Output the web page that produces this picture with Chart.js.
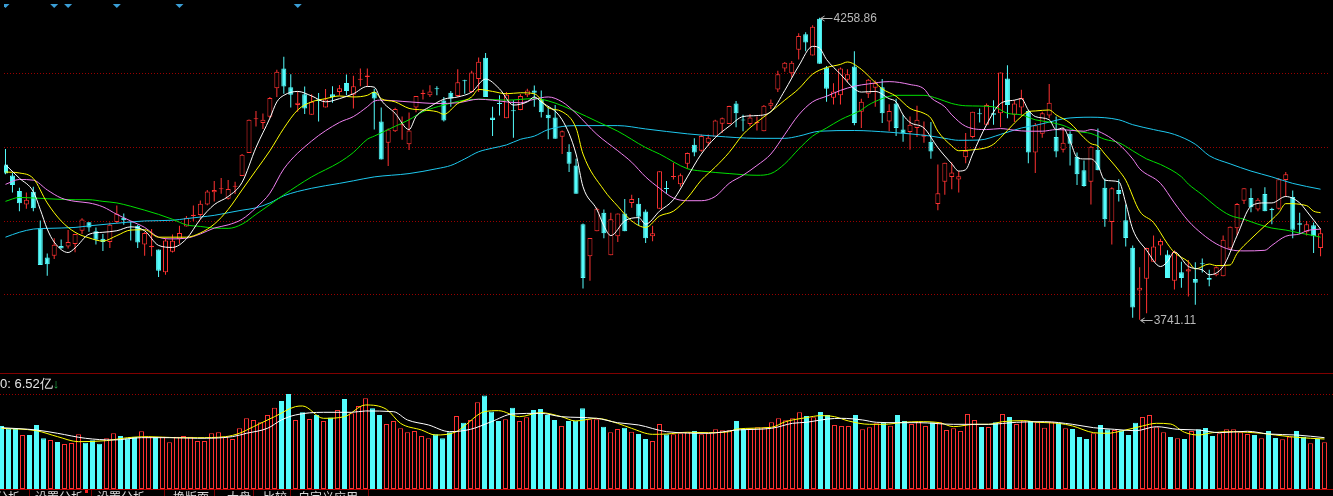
<!DOCTYPE html>
<html>
<head>
<meta charset="utf-8">
<script src="https://cdn.jsdelivr.net/npm/chart.js@4.4.1/dist/chart.umd.min.js"></script>
<style>
  html, body { margin: 0; padding: 0; background: #000; overflow: hidden; }
  #wrap { position: relative; width: 1333px; height: 496px; background: #000; overflow: hidden; }
  #price { position: absolute; left: 0; top: 0; }
  #volume { position: absolute; left: 0; top: 374px; }
  .hline { position: absolute; left: 0; width: 1333px; height: 1px; }
  #volLabel { position: absolute; left: 0; top: 375px; font: 13px "Liberation Sans", Arial, sans-serif; color: #e4e4e4; white-space: nowrap; }
  #volLabel .arrow { color: #22b04a; }
  #tabs { position: absolute; left: 0; top: 490px; width: 1333px; height: 6px; overflow: hidden; }
  #tabs span { position: absolute; top: 1px; font: 12px/12px "Noto Sans CJK SC", sans-serif; color: #d8d8d8; white-space: nowrap; }
  #tabs i { position: absolute; top: 0; width: 1px; height: 6px; background: #800000; }
</style>
</head>
<body>
<div id="wrap">
  <canvas id="price" width="1333" height="373"></canvas>
  <div class="hline" style="top:373px;background:#800000"></div>
  <canvas id="volume" width="1333" height="115"></canvas>
  <div id="volLabel"></div>
  <div class="hline" style="top:489px;background:#b00000"></div>
  <div id="tabs"></div>
</div>
<script>
// daily candles (index points)
const opens = [4007.3,3988.4,3962.0,3938.5,3960.4,3897.8,3848.0,3850.9,3867.6,3866.9,
3871.0,3893.8,3908.3,3892.8,3879.9,3874.3,3908.8,3916.2,3909.5,3902.1,
3870.3,3865.3,3861.4,3822.4,3857.6,3879.4,3901.1,3918.9,3920.5,3938.5,
3959.9,3964.9,3948.6,3969.3,3987.7,4026.9,4084.9,4078.2,4088.9,4138.1,
4171.6,4139.8,4109.1,4127.5,4092.3,4118.6,4105.0,4127.5,4131.4,4147.0,
4126.9,4152.7,4157.0,4131.4,4081.1,4044.7,4064.3,4074.3,4042.0,4105.0,
4128.1,4125.8,4138.1,4116.8,4130.2,4124.7,4151.5,4131.4,4153.7,4190.1,
4087.8,4111.8,4086.6,4099.5,4100.7,4125.8,4134.2,4118.6,4092.3,4087.8,
4054.8,4029.1,4005.6,3904.9,3850.2,3892.8,3924.6,3851.9,3884.4,3923.4,
3941.4,3940.2,3926.8,3884.4,3931.3,3966.5,3986.0,3973.2,4008.4,4040.9,
4030.8,4044.7,4054.8,4077.2,4076.5,4111.8,4083.9,4076.5,4078.2,4064.3,
4107.9,4135.9,4171.6,4163.7,4204.0,4230.3,4193.9,4257.1,4173.3,4121.8,
4125.8,4152.7,4175.0,4097.8,4128.6,4138.6,4139.8,4081.1,4111.8,4067.1,
4063.1,4069.8,4054.8,4046.4,3939.7,3977.6,3986.0,3981.6,4019.5,4054.2,
4095.0,4075.5,4095.0,4095.0,4154.8,4092.3,4105.0,4099.0,4027.9,4059.8,
4091.1,4054.2,4032.4,4059.8,4020.7,3997.2,3977.6,4032.4,3967.5,3908.8,
3963.7,3911.7,3864.8,3791.5,3811.6,3840.7,3868.6,3853.0,3808.2,3822.8,
3823.9,3811.1,3837.9,3812.8,3817.3,3815.6,3863.1,3897.8,3945.2,3949.8,
3930.1,3956.5,3931.3,3931.3,3980.5,3951.4,3906.6,3892.1,3903.3,3864.3];

const highs = [4033.7,3992.7,3967.6,3959.2,3969.3,3911.2,3854.7,3881.0,3878.7,3895.0,
3888.3,3915.0,3908.3,3899.4,3888.3,3907.8,3936.8,3923.4,3909.5,3903.8,
3891.6,3896.9,3861.4,3881.0,3887.1,3902.1,3919.1,3936.8,3945.7,3963.7,
3978.8,3984.3,3980.5,3977.6,4025.3,4084.4,4099.0,4094.5,4123.0,4169.5,
4191.8,4162.1,4132.5,4141.0,4127.5,4129.7,4136.5,4141.5,4143.6,4161.6,
4159.4,4171.6,4171.6,4137.0,4105.0,4068.8,4104.5,4089.4,4096.2,4124.7,
4135.3,4143.1,4141.5,4123.0,4133.1,4170.4,4152.7,4167.8,4190.6,4198.5,
4106.2,4125.8,4131.4,4117.5,4128.0,4137.0,4142.6,4134.2,4106.2,4109.1,
4065.5,4042.0,4016.9,3906.1,3881.5,3933.0,3930.1,3924.6,3923.4,3948.1,
3955.3,3949.8,3930.1,3902.1,3995.5,3978.8,4010.2,3991.7,4027.9,4052.1,
4058.8,4058.8,4083.9,4087.8,4107.9,4115.9,4092.3,4094.0,4089.4,4109.1,
4118.6,4167.8,4182.9,4184.5,4232.0,4233.7,4245.9,4258.86,4176.1,4146.5,
4173.3,4170.4,4201.3,4120.1,4153.7,4151.0,4153.7,4110.7,4120.1,4092.3,
4089.4,4107.9,4081.1,4079.9,4007.3,4010.2,4011.2,3996.0,4061.4,4097.8,
4103.4,4111.8,4117.5,4164.9,4177.2,4117.5,4135.3,4100.7,4078.2,4097.8,
4145.3,4089.4,4069.8,4064.3,4027.9,4014.0,4039.1,4068.8,3983.3,3968.2,
3982.1,3938.5,3868.6,3831.2,3864.8,3885.4,3879.9,3860.2,3860.2,3840.7,
3843.4,3839.6,3846.3,3826.7,3832.3,3885.4,3901.1,3941.4,3966.5,3966.5,
3949.8,3968.2,3933.0,3984.3,3994.4,3962.5,3924.6,3910.5,3907.8,3896.9];

const lows = [3990.6,3959.2,3927.3,3931.3,3927.3,3835.1,3816.6,3845.2,3863.1,3863.1,
3856.9,3888.3,3892.1,3870.3,3859.2,3864.3,3906.6,3903.8,3877.0,3864.3,
3850.9,3850.2,3814.5,3818.4,3856.4,3871.5,3901.1,3910.5,3913.4,3937.3,
3944.0,3957.0,3947.4,3956.5,3987.7,4026.9,4072.2,4068.3,4086.6,4123.0,
4128.6,4105.0,4097.8,4094.0,4092.3,4081.1,4105.0,4112.9,4125.8,4125.8,
4103.4,4141.5,4141.0,4067.1,4015.7,4004.5,4063.1,4049.7,4032.0,4096.7,
4118.6,4123.0,4125.8,4081.1,4106.2,4123.0,4128.6,4130.2,4131.4,4123.0,
4055.9,4091.1,4086.6,4053.2,4100.2,4123.0,4106.2,4087.8,4050.4,4051.4,
4025.3,3994.4,3957.0,3794.8,3808.2,3892.8,3881.0,3851.9,3874.3,3892.8,
3933.0,3902.1,3872.6,3875.9,3931.3,3956.5,3981.6,3969.3,4000.1,4021.2,
4029.1,4039.1,4054.8,4061.4,4076.5,4071.0,4064.3,4072.7,4065.5,4064.3,
4102.4,4131.4,4166.1,4156.5,4187.2,4201.3,4193.9,4180.0,4114.6,4110.1,
4110.1,4148.1,4074.3,4069.8,4121.3,4106.2,4078.2,4064.3,4055.9,4046.4,
4032.4,4054.2,4044.7,4016.9,3929.0,3955.3,3964.9,3959.2,4009.5,4052.1,
4079.4,4074.3,4075.5,4071.0,4086.6,4079.9,4089.4,4009.5,3992.7,4053.1,
4086.6,4019.5,4027.9,4005.6,3972.1,3969.3,3938.5,3997.2,3900.5,3870.3,
3944.0,3866.9,3744.5,3741.11,3752.4,3840.7,3851.8,3812.8,3793.1,3796.0,
3780.9,3767.0,3822.3,3798.8,3815.6,3815.6,3863.1,3885.4,3939.7,3925.6,
3927.3,3927.3,3905.0,3930.1,3952.4,3881.0,3888.3,3885.4,3855.8,3850.2];

const closes = [3991.7,3972.1,3940.7,3946.9,3932.3,3835.1,3836.3,3869.8,3863.1,3874.3,
3888.3,3912.9,3899.4,3878.2,3874.3,3903.8,3922.9,3911.7,3907.8,3873.7,
3889.9,3868.1,3825.1,3877.0,3876.5,3889.9,3916.2,3921.2,3940.2,3960.9,
3963.7,3965.9,3965.4,3970.4,4024.1,4083.9,4086.1,4083.9,4121.3,4166.1,
4141.0,4126.9,4112.9,4103.4,4114.6,4115.9,4118.6,4123.0,4138.1,4133.1,
4141.5,4153.7,4159.9,4120.3,4015.7,4067.1,4102.3,4075.5,4065.5,4124.7,
4129.7,4132.5,4136.0,4082.7,4120.3,4148.1,4149.8,4164.9,4183.4,4123.0,
4083.3,4110.9,4126.9,4098.3,4124.7,4134.2,4130.2,4096.7,4086.6,4051.4,
4064.3,4008.4,3957.0,3812.8,3881.5,3931.3,3889.4,3913.4,3923.4,3892.8,
3948.1,3917.9,3881.0,3889.4,3995.5,3965.4,3987.7,3988.8,4026.9,4027.9,
4055.9,4053.1,4082.7,4086.6,4107.4,4095.0,4082.7,4087.8,4079.4,4107.9,
4112.9,4162.1,4181.7,4181.7,4227.5,4216.4,4243.2,4180.0,4136.9,4132.5,
4171.6,4162.1,4078.2,4114.6,4152.7,4147.0,4095.0,4099.0,4069.8,4060.4,
4075.5,4083.9,4058.8,4029.6,3958.1,4010.2,3993.4,3987.2,4030.8,4097.8,
4093.3,4109.1,4092.3,4164.9,4109.1,4111.8,4121.3,4027.9,4074.3,4095.0,
4112.9,4029.6,4044.7,4043.0,3990.5,3970.4,4037.5,3997.2,3913.4,3966.5,
3956.5,3881.5,3762.4,3796.0,3864.3,3866.9,3876.0,3812.8,3857.5,3812.8,
3827.8,3804.4,3836.2,3809.9,3831.2,3878.2,3900.5,3939.7,3966.5,3934.0,
3946.9,3927.3,3929.0,3982.1,3990.5,3895.4,3903.8,3904.9,3884.4,3889.4];

// volume, 亿
const volumes = [8.08,7.78,7.69,6.92,6.92,8.21,6.50,6.28,6.03,5.77,
5.90,7.01,5.94,6.24,5.81,6.50,7.14,6.79,6.50,6.71,
7.40,6.71,6.71,6.71,5.98,6.71,6.79,6.71,6.15,6.15,
7.14,7.27,6.71,6.41,7.78,9.06,8.85,8.55,9.49,10.43,
11.28,12.18,8.85,9.83,8.97,9.49,8.72,9.15,10.13,11.54,
9.70,10.64,11.62,10.34,9.49,8.33,8.72,7.78,7.27,7.44,
6.79,6.50,7.01,6.50,7.27,9.36,8.50,8.85,11.11,11.97,
9.92,8.72,8.93,10.43,8.72,9.19,10.13,10.26,9.49,8.85,
8.08,8.72,8.76,10.34,8.93,8.93,7.99,7.27,7.69,7.86,
7.35,7.05,6.41,6.15,8.33,7.01,7.01,7.14,7.27,7.44,
7.01,7.14,7.65,7.52,7.52,8.72,7.69,7.78,7.91,7.91,
8.55,9.06,8.80,9.06,9.83,9.36,9.19,9.87,9.49,8.21,
8.08,8.08,9.49,7.65,7.91,8.42,8.50,8.12,9.49,8.72,
8.33,8.63,8.08,8.55,8.55,7.56,7.78,7.44,9.62,8.85,
7.95,7.95,8.55,9.62,9.23,8.33,8.76,8.72,8.55,7.86,
8.63,8.50,7.78,7.69,6.67,6.41,7.14,8.21,7.65,7.56,
7.52,6.92,8.50,9.23,9.49,7.91,7.27,6.67,6.50,6.41,
7.44,7.65,7.82,6.79,7.14,7.65,7.65,7.27,7.05,6.92,
6.50,7.44,6.54,6.37,6.71,7.44,6.71,5.85,6.41,5.98];

// moving average lines read at [candle index, value]
const ma5 = [[0,4006.8],[2,3983.8],[4,3960.8],[5,3930.1],[6,3896.6],[7,3874.3],[9,3856.4],[10,3864.2],[12,3887.7],[14,3891.1],[16,3893.7],[18,3900.4],[20,3893.7],[22,3868.6],[24,3865.2],[26,3879.8],[28,3913.4],[30,3938.5],[32,3952.4],[34,3976.6],[36,4036.3],[38,4086.6],[39,4114.6],[40,4125.8],[42,4132.5],[44,4124.7],[46,4114.6],[48,4120.1],[50,4128.5],[52,4141.0],[53,4139.8],[54,4117.5],[56,4095.0],[58,4067.1],[59,4089.4],[61,4106.2],[63,4119.1],[65,4123.0],[67,4131.4],[69,4153.7],[71,4136.9],[73,4109.1],[75,4114.6],[76,4123.0],[77,4114.6],[80,4083.9],[82,4025.2],[83,3969.2],[85,3930.1],[86,3902.1],[87,3885.4],[89,3910.5],[91,3916.2],[92,3905.0],[94,3927.3],[96,3946.9],[98,3986.0],[100,4025.2],[102,4053.1],[104,4072.7],[106,4089.4],[108,4091.1],[110,4097.8],[112,4134.2],[114,4176.1],[116,4209.7],[117,4206.8],[118,4187.2],[120,4162.1],[122,4136.9],[123,4131.4],[125,4132.5],[127,4120.1],[128,4114.6],[129,4092.3],[130,4079.4],[132,4069.8],[134,4036.3],[136,4008.4],[137,3996.0],[138,3998.4],[139,4025.2],[141,4075.5],[143,4111.8],[145,4117.5],[146,4120.1],[147,4100.7],[148,4089.4],[150,4083.9],[151,4067.1],[152,4069.8],[153,4047.5],[154,4019.5],[155,4016.8],[156,4016.8],[157,4005.6],[158,3980.4],[160,3977.6],[161,3941.4],[162,3896.6],[164,3860.2],[166,3832.4],[167,3840.7],[168,3857.5],[170,3832.4],[172,3826.7],[173,3818.3],[175,3832.4],[177,3885.4],[179,3935.7],[181,3941.4],[182,3941.4],[184,3952.4],[186,3941.4],[187,3927.3],[189,3896.6]];

const ma10 = [[0,3994.4],[2,3992.7],[4,3983.3],[6,3941.4],[8,3910.5],[10,3891.1],[12,3881.5],[14,3876.0],[16,3885.4],[18,3894.9],[20,3895.4],[22,3882.7],[24,3882.7],[26,3882.7],[28,3889.9],[30,3905.0],[32,3930.1],[34,3963.7],[36,3997.2],[38,4030.8],[40,4069.3],[42,4100.7],[44,4114.6],[46,4120.1],[48,4124.7],[50,4123.0],[52,4125.8],[53,4131.4],[54,4120.1],[56,4114.6],[58,4103.4],[60,4100.7],[62,4097.8],[63,4093.3],[65,4111.8],[67,4123.0],[68,4135.9],[70,4132.5],[72,4128.5],[74,4130.2],[76,4128.5],[78,4104.5],[80,4097.8],[82,4069.8],[83,4025.2],[86,3963.7],[88,3935.7],[90,3910.5],[92,3899.4],[94,3918.9],[96,3927.3],[98,3949.8],[100,3980.4],[102,4002.7],[104,4027.9],[106,4058.8],[108,4079.9],[110,4097.8],[112,4117.5],[114,4136.9],[116,4162.1],[118,4173.3],[120,4178.8],[121,4182.9],[123,4170.4],[124,4159.4],[126,4136.9],[128,4124.2],[130,4103.4],[132,4095.0],[133,4086.6],[134,4064.3],[136,4039.1],[137,4030.8],[139,4032.4],[141,4036.3],[142,4042.0],[143,4053.1],[145,4078.2],[146,4089.4],[147,4097.8],[148,4099.0],[150,4100.7],[151,4092.3],[153,4078.2],[155,4053.1],[156,4043.0],[157,4039.1],[158,4025.2],[160,3997.2],[161,3980.4],[163,3927.3],[165,3907.8],[167,3871.4],[168,3856.4],[170,3840.7],[171,3828.3],[173,3836.7],[174,3834.0],[176,3835.0],[177,3854.7],[179,3879.8],[181,3902.1],[183,3924.6],[184,3940.2],[187,3936.8],[188,3927.3],[189,3924.6]];

const ma20 = [[0,3973.2],[2,3981.6],[4,3980.4],[6,3963.7],[8,3949.8],[10,3944.1],[12,3941.4],[14,3934.7],[16,3921.8],[18,3910.5],[20,3899.4],[22,3882.7],[24,3879.8],[26,3881.0],[28,3888.2],[30,3898.3],[32,3903.8],[34,3913.4],[36,3933.0],[38,3958.1],[40,3999.7],[44,4047.5],[48,4079.4],[50,4089.4],[52,4106.2],[53,4115.8],[54,4117.5],[58,4114.6],[62,4111.8],[65,4113.0],[68,4119.1],[70,4117.5],[72,4114.6],[74,4113.0],[76,4119.1],[78,4123.0],[80,4114.6],[82,4095.0],[85,4058.8],[88,4030.8],[90,4011.1],[92,3986.0],[94,3966.5],[96,3949.8],[98,3945.2],[100,3945.2],[102,3952.4],[104,3974.9],[106,3988.8],[108,4005.6],[110,4025.2],[112,4058.8],[114,4092.3],[116,4114.6],[118,4124.2],[120,4134.2],[122,4141.4],[124,4145.3],[127,4149.3],[130,4144.3],[132,4136.9],[133,4121.8],[135,4106.2],[136,4092.3],[138,4072.7],[141,4067.1],[143,4068.8],[145,4066.0],[147,4064.3],[149,4064.3],[151,4067.1],[153,4066.0],[155,4064.3],[156,4067.1],[158,4058.8],[160,4042.0],[162,4016.8],[163,4000.1],[166,3974.9],[168,3941.4],[170,3910.5],[172,3888.2],[174,3871.4],[176,3861.4],[178,3859.2],[181,3860.2],[182,3868.6],[184,3884.3],[186,3888.2],[187,3893.7],[189,3896.6]];

const ma30 = [[0,3944.1],[2,3950.8],[6,3948.6],[10,3946.9],[12,3946.9],[14,3944.1],[16,3941.4],[18,3935.7],[20,3929.0],[22,3921.8],[24,3913.4],[26,3903.8],[28,3901.1],[30,3898.3],[32,3897.8],[34,3905.0],[36,3921.8],[38,3938.5],[40,3955.3],[44,3986.0],[48,4011.1],[50,4027.9],[52,4050.4],[53,4055.9],[56,4072.7],[58,4083.9],[60,4097.8],[63,4109.1],[66,4117.5],[69,4119.1],[72,4117.5],[76,4120.1],[78,4116.3],[82,4097.8],[85,4081.1],[88,4064.3],[92,4036.3],[94,4025.2],[98,4000.1],[100,3996.1],[104,3991.7],[108,3988.8],[110,3991.7],[112,4008.4],[114,4033.6],[116,4055.9],[118,4069.8],[120,4083.9],[123,4100.7],[124,4109.1],[126,4120.1],[128,4125.8],[132,4125.8],[134,4120.1],[136,4111.8],[138,4107.9],[142,4106.2],[144,4095.0],[146,4092.3],[148,4083.9],[150,4079.9],[152,4074.3],[154,4064.3],[156,4060.4],[158,4050.4],[160,4044.7],[162,4030.8],[164,4016.8],[166,4007.3],[169,3986.3],[170,3973.7],[172,3955.3],[174,3935.2],[176,3920.1],[178,3913.4],[180,3905.0],[182,3898.3],[184,3894.9],[186,3889.9],[188,3885.4],[189,3882.7]];

const ma60 = [[0,3882.7],[2,3891.1],[4,3896.6],[6,3897.8],[10,3899.4],[12,3902.1],[16,3906.6],[20,3910.5],[24,3911.7],[26,3914.5],[28,3917.2],[30,3920.1],[32,3924.6],[34,3929.0],[36,3933.0],[38,3941.4],[40,3953.6],[44,3966.5],[48,3974.9],[50,3979.3],[53,3986.0],[58,3991.7],[62,4000.1],[64,4005.6],[66,4016.8],[68,4029.1],[70,4035.3],[72,4040.8],[74,4050.4],[76,4055.9],[78,4067.1],[82,4073.9],[88,4073.9],[92,4068.2],[98,4059.8],[102,4055.9],[108,4052.1],[112,4052.1],[114,4055.9],[117,4064.3],[122,4065.5],[127,4062.6],[130,4059.8],[133,4055.9],[135,4052.1],[137,4048.7],[140,4049.2],[143,4058.8],[146,4069.8],[148,4074.3],[150,4079.9],[152,4085.6],[154,4087.8],[156,4088.3],[160,4083.9],[162,4075.5],[165,4067.1],[168,4058.8],[171,4042.0],[173,4022.4],[176,4008.4],[179,3996.0],[182,3986.0],[185,3974.9],[189,3964.9]];

const volMa5 = [[0,7.78],[5,7.47],[8,6.71],[11,6.07],[15,6.20],[18,6.58],[21,6.71],[25,6.58],[28,6.58],[32,6.71],[34,7.14],[36,7.99],[39,9.27],[42,10.56],[43,10.64],[46,9.06],[49,9.27],[52,10.77],[55,10.21],[57,8.42],[60,7.56],[62,6.92],[65,7.35],[66,7.99],[69,9.91],[71,10.04],[74,9.27],[77,9.79],[80,9.27],[82,8.72],[85,9.06],[88,8.42],[90,7.78],[93,7.01],[95,7.05],[98,7.27],[101,7.22],[104,7.35],[105,7.69],[110,7.91],[112,8.63],[115,9.15],[117,9.40],[119,9.27],[121,8.72],[124,8.29],[126,8.29],[129,8.55],[131,8.63],[134,8.50],[136,7.99],[139,8.29],[141,8.29],[143,8.63],[146,8.76],[148,8.55],[151,8.42],[153,8.08],[156,7.22],[158,7.14],[160,7.44],[163,8.08],[165,8.42],[167,8.33],[169,7.27],[171,6.92],[173,7.22],[176,7.35],[178,7.27],[180,7.14],[182,6.92],[184,6.71],[187,6.50],[189,6.41]];

const volMa10 = [[0,7.86],[5,7.56],[8,7.14],[12,6.50],[16,6.28],[20,6.58],[24,6.58],[28,6.50],[33,6.71],[35,7.14],[38,7.78],[40,8.85],[42,9.49],[46,9.83],[50,9.83],[52,10.0],[56,9.91],[58,8.85],[61,8.21],[64,7.35],[67,7.65],[70,8.63],[73,9.62],[77,9.70],[80,9.27],[85,9.06],[88,8.50],[91,8.21],[95,7.35],[101,7.14],[105,7.56],[110,7.78],[113,8.42],[115,8.55],[118,8.97],[120,9.06],[123,8.85],[125,8.55],[128,8.50],[131,8.50],[136,8.29],[141,8.29],[145,8.55],[149,8.63],[153,8.29],[156,7.86],[159,7.65],[162,7.47],[165,7.99],[168,7.65],[171,7.56],[174,7.22],[178,7.40],[181,7.05],[185,6.92],[189,6.58]];

const priceGrid = [4164.4, 4037.0, 3911.2, 3784.7];
const volGrid = [12.18];
const eventMarks = [0, 7, 9, 16, 25, 42];
const volLabelText = "0: 6.52亿";
const tabNames = ["分析", "设置分析", "设置分析", "换版面", "大盘", "比较", "自定义应用"];
const tabLefts = [-4, 35, 97, 173, 227, 263, 298];
const tabSeps = [29, 91, 164, 214, 253, 290, 368];

const UP = '#ff3232';
const DOWN = '#54fcfc';
const PRICE_MIN = 3656.8, PRICE_MAX = 4282.3;
const VOL_MAX = 14.74;
const X_MIN = -0.214, X_MAX = 190.214;

const isUp = closes.map((c, i) => c > opens[i]);
const candleColor = isUp.map(u => u ? UP : DOWN);
const bodyFill = isUp.map(u => u ? '#000' : DOWN);

function pairs(list) {
    return list.map(p => ({ x: p[0], y: p[1] }));
}

function maLine(list, color) {
    return {
        type: 'line',
        data: pairs(list),
        borderColor: color,
        borderWidth: 1,
        pointRadius: 0,
        cubicInterpolationMode: 'monotone',
        order: 0
    };
}

const dottedGrid = {
    id: 'dottedGrid',
    beforeDatasetsDraw(chart, args, opts) {
        const { ctx, chartArea, scales } = chart;
        ctx.save();
        ctx.strokeStyle = '#9a0000';
        ctx.lineWidth = 1;
        ctx.setLineDash([1, 2]);
        opts.levels.forEach(v => {
            const y = Math.round(scales.y.getPixelForValue(v)) + 0.5;
            ctx.beginPath();
            ctx.moveTo(chartArea.left, y);
            ctx.lineTo(chartArea.right, y);
            ctx.stroke();
        });
        ctx.restore();
    }
};

// high / low markers with the little arrow
const extremeLabels = {
    id: 'extremeLabels',
    afterDatasetsDraw(chart) {
        const { ctx, scales } = chart;
        const hi = highs.indexOf(Math.max(...highs));
        const lo = lows.indexOf(Math.min(...lows));
        ctx.save();
        ctx.font = '12px "Liberation Sans", Arial, sans-serif';
        ctx.fillStyle = '#b8b8b8';
        ctx.strokeStyle = '#b8b8b8';
        ctx.lineWidth = 1;
        ctx.textBaseline = 'middle';
        [[hi, highs[hi]], [lo, lows[lo]]].forEach(([i, v]) => {
            const x = scales.x.getPixelForValue(i) + 1;
            const y = Math.round(scales.y.getPixelForValue(v)) + 0.5;
            ctx.beginPath();
            ctx.moveTo(x, y);
            ctx.lineTo(x + 12, y);
            ctx.moveTo(x + 4, y - 2.5);
            ctx.lineTo(x, y);
            ctx.lineTo(x + 4, y + 2.5);
            ctx.stroke();
            ctx.fillText(v.toFixed(2), x + 13, y);
        });
        ctx.restore();
    }
};

const baseOptions = {
    responsive: false,
    animation: false,
    devicePixelRatio: 1,
    events: [],
    layout: { padding: 0 },
    plugins: { legend: { display: false }, tooltip: { enabled: false } }
};

new Chart(document.getElementById('price').getContext('2d'), {
    type: 'bar',
    data: {
        datasets: [
            maLine(ma5, '#ffffff'),
            maLine(ma10, '#ffff00'),
            maLine(ma20, '#f080f0'),
            maLine(ma30, '#00e000'),
            maLine(ma60, '#1ec8ee'),
            {
                type: 'line',
                data: eventMarks.map(i => ({ x: i, y: PRICE_MAX })),
                showLine: false,
                pointStyle: 'rectRot',
                pointRadius: 4,
                pointBorderWidth: 0,
                pointBackgroundColor: '#3a9ed6',
                order: 0
            },
            {
                data: opens.map((o, i) => ({ x: i, y: [o, closes[i]] })),
                backgroundColor: bodyFill,
                borderColor: candleColor,
                borderWidth: 1,
                borderSkipped: false,
                barThickness: 5,
                minBarLength: 1,
                grouped: false,
                inflateAmount: 0,
                order: 1
            },
            {
                data: lows.map((l, i) => ({ x: i, y: [l, highs[i]] })),
                backgroundColor: candleColor,
                borderWidth: 0,
                barThickness: 1,
                grouped: false,
                inflateAmount: 0,
                order: 2
            }
        ]
    },
    options: {
        ...baseOptions,
        plugins: { ...baseOptions.plugins, dottedGrid: { levels: priceGrid } },
        scales: {
            x: { type: 'linear', min: X_MIN, max: X_MAX, offset: false, display: false },
            y: { type: 'linear', min: PRICE_MIN, max: PRICE_MAX, beginAtZero: false, display: false }
        }
    },
    plugins: [dottedGrid, extremeLabels]
});

new Chart(document.getElementById('volume').getContext('2d'), {
    type: 'bar',
    data: {
        datasets: [
            maLine(volMa10, '#ffffff'),
            maLine(volMa5, '#ffff00'),
            {
                data: volumes.map((v, i) => ({ x: i, y: v })),
                backgroundColor: bodyFill,
                borderColor: candleColor,
                borderWidth: 1,
                borderSkipped: false,
                barThickness: 5,
                grouped: false,
                inflateAmount: 0,
                order: 1
            }
        ]
    },
    options: {
        ...baseOptions,
        plugins: { ...baseOptions.plugins, dottedGrid: { levels: volGrid } },
        scales: {
            x: { type: 'linear', min: X_MIN, max: X_MAX, offset: false, display: false },
            y: { type: 'linear', min: 0, max: VOL_MAX, display: false }
        }
    },
    plugins: [dottedGrid]
});

document.getElementById('volLabel').innerHTML = volLabelText + '<span class="arrow">↓</span>';

const tabs = document.getElementById('tabs');
tabNames.forEach((name, k) => {
    const s = document.createElement('span');
    s.textContent = name;
    s.style.left = tabLefts[k] + 'px';
    tabs.appendChild(s);
});
tabSeps.forEach(x => {
    const sep = document.createElement('i');
    sep.style.left = x + 'px';
    tabs.appendChild(sep);
});
const dot = document.createElement('i');
dot.style.cssText = 'left:85px;top:0;width:3px;height:3px;background:#ff2020';
tabs.appendChild(dot);
</script>
</body>
</html>
